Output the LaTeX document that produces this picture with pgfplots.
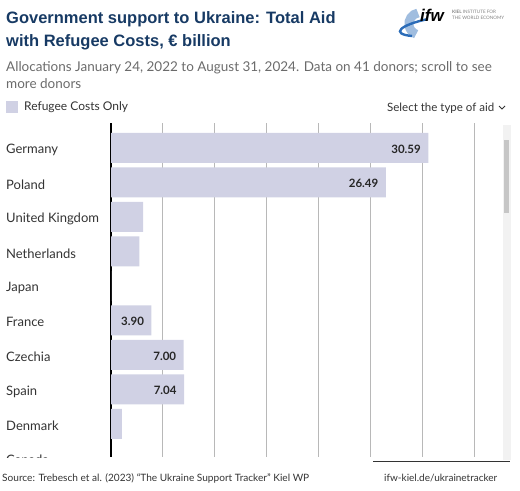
\documentclass[border=0pt]{standalone}
\usepackage{pgfplots}
\pgfplotsset{compat=1.18}
\usepackage{fontspec}
\setmainfont{Lato}
\newfontfamily\titlefont{Liberation Sans}
\definecolor{titleblue}{HTML}{173A64}
\definecolor{subgrey}{HTML}{6B6B6B}
\definecolor{labgrey}{HTML}{333333}
\definecolor{barfill}{HTML}{D0D1E4}
\definecolor{gridgrey}{HTML}{B8B8B8}
\definecolor{logoblue}{HTML}{2B6CB8}
\begin{document}
\begin{tikzpicture}
\useasboundingbox (0,0) rectangle (520bp,-491bp);
% title and subtitle
\node[anchor=base west, inner sep=0, text=titleblue, font=\titlefont\bfseries\fontsize{16.5bp}{20bp}\selectfont] at (6bp,-23bp) {Government support to Ukraine: Total Aid};
\node[anchor=base west, inner sep=0, text=titleblue, font=\titlefont\bfseries\fontsize{16.5bp}{20bp}\selectfont] at (6bp,-46bp) {with Refugee Costs, € billion};
\node[anchor=base west, inner sep=0, text=subgrey, font=\fontsize{13.5bp}{16bp}\selectfont] at (6bp,-71bp) {Allocations January 24, 2022 to August 31, 2024. Data on 41 donors; scroll to see};
\node[anchor=base west, inner sep=0, text=subgrey, font=\fontsize{13.5bp}{16bp}\selectfont] at (6bp,-88bp) {more donors};
% logo
\draw[logoblue!45, line width=9bp] (418bp,-13bp) arc[start angle=100, end angle=250, radius=11bp];
\draw[logoblue, line width=2.4bp] (428bp,-19bp) .. controls (400bp,-25bp) and (390bp,-34bp) .. (412bp,-36bp);
\node[anchor=base west, inner sep=0, font=\titlefont\bfseries\itshape\fontsize{17bp}{17bp}\selectfont] at (420bp,-21bp) {ifw};
\node[anchor=north west, inner sep=0, text=gray, font=\fontsize{4.6bp}{5.6bp}\selectfont, align=left] at (452bp,-10bp) {\textbf{KIEL} INSTITUTE FOR\\THE WORLD ECONOMY};
% select type
\node[anchor=base west, inner sep=0, text=labgrey, font=\fontsize{11.5bp}{13bp}\selectfont] at (387bp,-111bp) {Select the type of aid};
\draw[labgrey, line width=0.8bp] (499bp,-106bp) -- (502bp,-109bp) -- (505bp,-106bp);
% scrollbar
\fill[gray!10] (503bp,-125bp) rectangle (511bp,-460bp);
\fill[gray!45] (503.5bp,-140bp) rectangle (509bp,-213bp);
\begin{axis}[
  at={(111bp,-123bp)}, anchor=north west,
  scale only axis, width=389bp, height=334bp,
  xmin=0, xmax=37.5, ymin=-0.72, ymax=8.96,
  y dir=reverse,
  xbar, bar width=30bp, bar shift=0pt,
  xtick={5,10,...,35}, xticklabels={}, xmajorgrids,
  grid style={gridgrey, line width=0.9bp},
  major tick length=0pt,
  ytick={0,...,8},
  yticklabels={Germany,Poland,United Kingdom,Netherlands,Japan,France,Czechia,Spain,Denmark},
  yticklabel style={anchor=west, inner sep=0pt, xshift=-105bp, yshift=-2bp, text=labgrey, font=\fontsize{13bp}{15bp}\selectfont},
  axis x line*=bottom,
  x axis line style={draw=none},
  axis y line*=left,
  y axis line style={black, line width=1.1bp, -},
  clip=false,
  /pgf/number format/assume math mode=true,
  legend style={at={(axis description cs:-0.27,1.025)}, anchor=south west, draw=none, fill=none, inner sep=0pt, font=\fontsize{12bp}{14bp}\selectfont, text=labgrey},
  legend image code/.code={\fill[barfill] (0bp,-6bp) rectangle (12bp,6bp);},
  legend cell align=left,
  legend style={nodes={inner xsep=6bp}},
]
\addplot[fill=barfill, draw=none] coordinates {
 (30.59,0) (26.49,1) (3.09,2) (2.73,3) (0,4) (3.90,5) (7.00,6) (7.04,7) (1.06,8)};
\addlegendentry{Refugee Costs Only}
\addplot[draw=none, fill=none, forget plot,
  nodes near coords={\pgfmathprintnumber[fixed,fixed zerofill,precision=2,assume math mode=true]{\pgfplotspointmeta}},
  point meta=x,
  every node near coord/.append style={anchor=east, xshift=-4bp, yshift=-1bp, text=black!85, font=\fontsize{11.5bp}{13bp}\selectfont\bfseries}]
  coordinates {(30.59,0) (26.49,1) (3.90,5) (7.00,6) (7.04,7)};
\end{axis}
% partially hidden Canada label
\begin{scope}
\clip (0,-123bp) rectangle (110bp,-457bp);
\node[anchor=base west, inner sep=0, text=labgrey, font=\fontsize{13bp}{15bp}\selectfont] at (6bp,-464bp) {Canada};
\end{scope}
\draw[labgrey, line width=0.9bp] (373bp,-461bp) -- (510bp,-461bp);
% footer
\node[anchor=base west, inner sep=0, text=labgrey, font=\fontsize{10.1bp}{12bp}\selectfont] at (2bp,-481bp) {Source: Trebesch et al. (2023) ``The Ukraine Support Tracker'' Kiel WP};
\node[anchor=base west, inner sep=0, text=labgrey, font=\fontsize{10bp}{12bp}\selectfont] at (384bp,-481bp) {ifw-kiel.de/ukrainetracker};
\end{tikzpicture}
\end{document}
